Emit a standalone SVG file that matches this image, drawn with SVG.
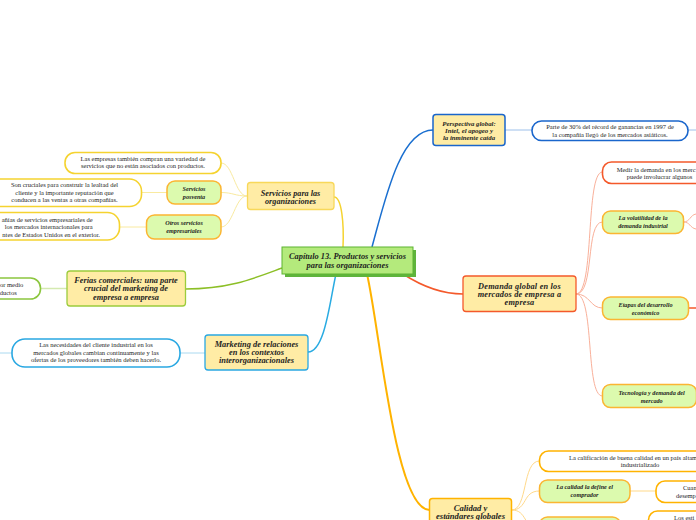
<svg xmlns="http://www.w3.org/2000/svg" width="696" height="520" viewBox="0 0 696 520">
<style>
text{font-family:"Liberation Serif","DejaVu Serif",serif;fill:#1e1e1e;text-anchor:middle}
.b{font-weight:bold;font-style:italic}
.s{font-size:6.5px}
.m{font-size:6.2px}
.l{font-size:8.4px}
.main{fill:#ffeca5;stroke-width:1.3}
.leaf{fill:#dcfaae;stroke:#fbb532;stroke-width:1.5}
.note{fill:#fff;stroke-width:1.6}
.c{fill:none}
</style>
<rect width="696" height="520" fill="#fff"/>
<g id="connectors" class="c">
<path d="M334,197 C342,197 344,225 343,247" stroke="#f5d330" stroke-width="1.5"/>
<path d="M247,196 C235,196 233,163 221,163 M247,196 C235,196 233,192.5 221,192.5 M247,196 C235,196 233,227 221,227" stroke="#f9eaa0" stroke-width="1"/>
<path d="M141.5,192.5 L167,192.5 M119.5,227 L146.5,227" stroke="#f9eaa0" stroke-width="1"/>
<path d="M185.5,289 C230,289 255,278 282,268" stroke="#8cbf26" stroke-width="1.5"/>
<path d="M40.5,288.5 L67,288.5" stroke="#d4eab0" stroke-width="1.5"/>
<path d="M308,352 C325,352 330,300 336,274" stroke="#29abe2" stroke-width="1.5"/>
<path d="M180,353 L205,353 M0,353 L12,353" stroke="#aad9f0" stroke-width="1"/>
<path d="M372,247 C385,200 400,130 433,130" stroke="#1a6fd0" stroke-width="1.5"/>
<path d="M505,130 L532,130 M688,130 L696,130" stroke="#9dc0ea" stroke-width="1"/>
<path d="M403,274 C420,285 440,294 463,294" stroke="#f4592b" stroke-width="1.5"/>
<path d="M576,294 C595,294 585,172 602.5,172 M576,294 C595,294 585,222 602.5,222 M576,294 C590,294 590,308 602.5,308 M576,294 C595,294 585,396 602.5,396" stroke="#f9b09a" stroke-width="1"/>
<path d="M683.5,222 C690,222 690,215 696,214 M683.5,222 C690,222 690,228 696,229" stroke="#f9b09a" stroke-width="1"/>
<path d="M688.5,308 L696,308" stroke="#f4592b" stroke-width="1.5"/>
<path d="M367,274 C380,330 395,510 429.5,510" stroke="#ffb300" stroke-width="2"/>
<path d="M511.5,510 C528,510 522,461 539.5,461 M511.5,510 C528,510 522,491 539.5,491 M511.5,510 C528,510 522,528 539.5,528" stroke="#ffd98a" stroke-width="1"/>
<path d="M630,491 L656,491 M620.5,522 L648.5,522" stroke="#ffd98a" stroke-width="1"/>
</g>
<g id="central">
<rect x="285" y="250" width="131" height="27" fill="#5fb43c"/>
<rect x="282" y="247" width="131" height="27" fill="#b4ea7c" stroke="#5cb331" stroke-width="1"/>
<text class="b" font-size="8.4" x="347.5" y="259">Capítulo 13. Productos y servicios</text>
<text class="b" font-size="8.4" x="347.5" y="267.5">para las organizaciones</text>
</g>
<g id="servicios">
<rect class="main" x="247.5" y="182.5" width="86.5" height="27" rx="3" stroke="#f8d85a"/>
<text class="b" font-size="8.2" x="290.5" y="195.5">Servicios para las</text>
<text class="b" font-size="8.2" x="290.5" y="203.7">organizaciones</text>
</g>
<g id="empresas-compran">
<rect class="note" x="65" y="152.5" width="156" height="21" rx="10" stroke="#f5d330"/>
<text class="s" x="143" y="161">Las empresas también compran una variedad de</text>
<text class="s" x="143" y="168.4">servicios que no están asociados con productos.</text>
</g>
<g id="posventa">
<rect class="leaf" x="167" y="181" width="54" height="23" rx="8"/>
<text class="b m" x="194" y="191.3">Servicios</text>
<text class="b m" x="194" y="199">posventa</text>
</g>
<g id="cruciales">
<rect class="note" x="-12" y="179" width="153.5" height="27.5" rx="12" stroke="#f5d330"/>
<text class="s" x="64.5" y="187">Son cruciales para construir la lealtad del</text>
<text class="s" x="64.5" y="194.5">cliente y la importante reputación que</text>
<text class="s" x="64.5" y="202">conducen a las ventas a otras compañías.</text>
</g>
<g id="otros">
<rect class="leaf" x="146.5" y="215" width="74.5" height="24" rx="8"/>
<text class="b m" x="184" y="224.5">Otros servicios</text>
<text class="b m" x="184" y="232.5">empresariales</text>
</g>
<g id="otros-nota">
<rect class="note" x="-40" y="212.5" width="159.5" height="27.5" rx="12" stroke="#f5d330"/>
<text class="s" x="92.7" y="222" style="text-anchor:end">añías de servicios empresariales de</text>
<text class="s" x="92.7" y="229.3" style="text-anchor:end">los mercados internacionales para</text>
<text class="s" x="100" y="236.6" style="text-anchor:end">ntes de Estados Unidos en el exterior.</text>
</g>
<g id="ferias">
<rect class="main" x="67" y="271" width="118.5" height="35" rx="3" stroke="#9ccc3c"/>
<text class="b l" x="126" y="283">Ferias comerciales: una parte</text>
<text class="b l" x="126" y="291.3">crucial del marketing de</text>
<text class="b l" x="126" y="299.6">empresa a empresa</text>
</g>
<g id="ferias-nota">
<rect class="note" x="-40" y="278" width="80.5" height="21" rx="10" stroke="#8cc63f"/>
<text class="s" x="23.3" y="287" style="text-anchor:end">or medio</text>
<text class="s" x="16.7" y="294.5" style="text-anchor:end">ductos</text>
</g>
<g id="marketing">
<rect class="main" x="205" y="335" width="103" height="35" rx="3" stroke="#2aa8e2"/>
<text class="b l" x="256.5" y="347">Marketing de relaciones</text>
<text class="b l" x="256.5" y="354.9">en los contextos</text>
<text class="b l" x="256.5" y="362.9">interorganizacionales</text>
</g>
<g id="marketing-nota">
<rect class="note" x="12" y="339" width="168" height="28" rx="13" stroke="#2aa8e2"/>
<text class="s" x="96" y="347">Las necesidades del cliente industrial en los</text>
<text class="s" x="96" y="354.7">mercados globales cambian continuamente y las</text>
<text class="s" x="96" y="362.3">ofertas de los proveedores también deben hacerlo.</text>
</g>
<g id="perspectiva">
<rect class="main" x="433" y="114.5" width="72" height="31" rx="3" stroke="#1a66cc" style="stroke-width:1.5"/>
<text class="b" font-size="6.8" x="469" y="125.5">Perspectiva global:</text>
<text class="b" font-size="6.8" x="469" y="133">Intel, el apogeo y</text>
<text class="b" font-size="6.8" x="469" y="140.4">la inminente caída</text>
</g>
<g id="perspectiva-nota">
<rect class="note" x="532" y="121" width="156" height="19.5" rx="9.5" stroke="#1a66cc"/>
<text class="s" x="610" y="129">Parte de 30% del récord de ganancias en 1997 de</text>
<text class="s" x="610" y="136.6">la compañía llegó de los mercados asiáticos.</text>
</g>
<g id="demanda">
<rect class="main" x="463" y="276" width="113" height="35.5" rx="3" stroke="#f4592b"/>
<text class="b" font-size="8.3" letter-spacing="0.2" x="519.5" y="288.5">Demanda global en los</text>
<text class="b" font-size="8.3" letter-spacing="0.2" x="519.5" y="296.8">mercados de empresa a</text>
<text class="b" font-size="8.3" letter-spacing="0.2" x="519.5" y="305.1">empresa</text>
</g>
<g id="medir">
<rect class="note" x="602.5" y="162" width="120" height="21.5" rx="9" stroke="#f4592b"/>
<text class="s" x="616.7" y="171.5" style="text-anchor:start">Medir la demanda en los merc</text>
<text class="s" x="626.7" y="179" style="text-anchor:start">puede involucrar algunos</text>
</g>
<g id="volatilidad">
<rect class="leaf" x="602.5" y="211" width="81" height="22.5" rx="8"/>
<text class="b m" x="643" y="220">La volatilidad de la</text>
<text class="b m" x="643" y="228">demanda industrial</text>
</g>
<g id="etapas">
<rect class="leaf" x="602.5" y="297" width="86" height="22.5" rx="8"/>
<text class="b m" x="645.5" y="307">Etapas del desarrollo</text>
<text class="b m" x="645.5" y="315">económico</text>
</g>
<g id="tecnologia">
<rect class="leaf" x="602.5" y="384.5" width="94" height="23" rx="8"/>
<text class="b m" x="651.7" y="395">Tecnología y demanda del</text>
<text class="b m" x="651.7" y="403">mercado</text>
</g>
<g id="calidad">
<rect class="main" x="429.5" y="498.5" width="82" height="40" rx="3" stroke="#ffb300" style="stroke-width:1.5"/>
<text class="b" font-size="8.6" x="470.5" y="510.5">Calidad y</text>
<text class="b" font-size="8.6" x="470.5" y="519">estándares globales</text>
</g>
<g id="calificacion">
<rect class="note" x="539.5" y="451" width="200" height="20.5" rx="9" stroke="#ffb300"/>
<text class="s" x="569" y="459.5" style="text-anchor:start">La calificación de buena calidad en un país altam</text>
<text class="s" x="640" y="466.9">industrializado</text>
</g>
<g id="la-calidad">
<rect class="leaf" x="539.5" y="480" width="90.5" height="22.5" rx="8"/>
<text class="b m" x="584.5" y="489">La calidad  la define el</text>
<text class="b m" x="584.5" y="496.9">comprador</text>
</g>
<g id="cuando">
<rect class="note" x="656" y="481" width="80" height="21.5" rx="9" stroke="#ffb300"/>
<text class="s" x="683" y="490" style="text-anchor:start">Cuan</text>
<text class="s" x="676" y="497.8" style="text-anchor:start">desemp</text>
</g>
<g id="calidad-3">
<rect class="leaf" x="539.5" y="517" width="81" height="22" rx="8"/>
</g>
<g id="los-esti">
<rect class="note" x="648.5" y="511" width="80" height="22" rx="9" stroke="#ffb300"/>
<text class="s" x="674" y="519.6" style="text-anchor:start">Los esti</text>
</g>
</svg>
